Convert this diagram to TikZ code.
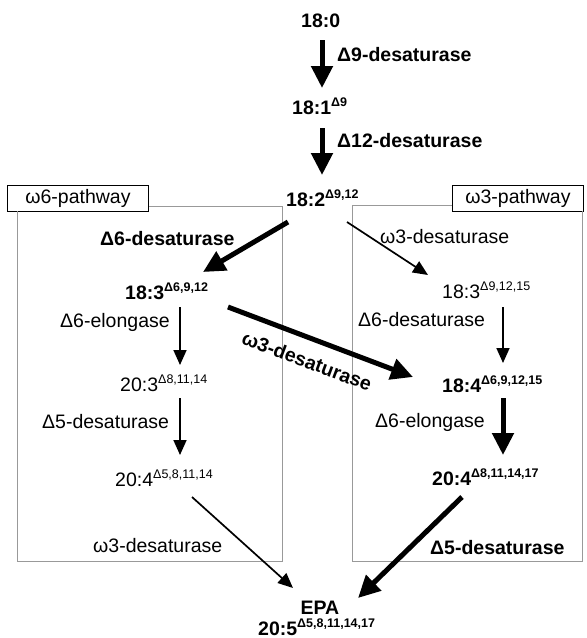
\documentclass[tikz,border=0pt]{standalone}
\usepackage{fontspec}
\setmainfont{Liberation Sans}
\usetikzlibrary{arrows.meta,calc}
\newcommand\supx[1]{\raisebox{8pt}{\fontsize{12.5}{13}\selectfont #1}}
\tikzset{
  txt/.style={inner sep=0pt, anchor=base west, font=\fontsize{19.5}{22}\selectfont},
  btxt/.style={txt, font=\fontsize{19.5}{22}\selectfont\bfseries},
  thinarrow/.style={line width=1.7pt, -{Triangle[length=15pt,width=13pt]}},
  boldarrow/.style={line width=5pt, -{Triangle[length=22pt,width=21pt]}},
  frameline/.style={draw=black!40, line width=0.8pt},
  pathbox/.style={draw=black, line width=1pt, inner sep=0pt, minimum height=26pt, font=\fontsize{19.5}{22}\selectfont}
}
\begin{document}
\begin{tikzpicture}[x=1pt,y=-1pt]
\useasboundingbox (0,0) rectangle (587,638);
% pathway frames
\node[pathbox, minimum width=141pt, anchor=north west] (w6) at (7,185) {ω6-pathway};
\node[pathbox, minimum width=131pt, anchor=north west] (w3) at (452,185) {ω3-pathway};
\draw[frameline] (w6.east |- 0,206) -- (282,206) -- (282,561) -- (17,561) -- (17,211);
\draw[frameline] (w3.west |- 0,205) -- (352,205) -- (352,561) -- (582,561) -- (582,211);
% metabolites
\node[btxt] (n180) at (301,27) {18:0};
\node[btxt] (n181) at (292,114) {18:1\supx{Δ9}};
\node[btxt] (n182) at (286,206) {18:2\supx{Δ9,12}};
\node[btxt] (a183) at (125,299) {18:3\supx{Δ6,9,12}};
\node[txt]  (b183) at (442,298) {18:3\supx{Δ9,12,15}};
\node[txt]  (a203) at (120,391) {20:3\supx{Δ8,11,14}};
\node[btxt] (b184) at (442,392) {18:4\supx{Δ6,9,12,15}};
\node[txt]  (a204) at (115,486) {20:4\supx{Δ5,8,11,14}};
\node[btxt] (b204) at (432,485) {20:4\supx{Δ8,11,14,17}};
\node[btxt, anchor=base] (epa) at (320,614) {EPA};
\node[btxt] (n205) at (258,635) {20:5\supx{Δ5,8,11,14,17}};
% enzyme labels
\node[btxt] (l1) at (337,61) {Δ9-desaturase};
\node[btxt] (l2) at (337,147) {Δ12-desaturase};
\node[btxt] (l3) at (100,245) {Δ6-desaturase};
\node[txt]  (l4) at (380,243) {ω3-desaturase};
\node[txt]  (l5) at (60,327) {Δ6-elongase};
\node[txt]  (l6) at (42,428) {Δ5-desaturase};
\node[txt]  (l7) at (358,326) {Δ6-desaturase};
\node[txt]  (l8) at (375,427) {Δ6-elongase};
\node[txt]  (l9) at (93,552) {ω3-desaturase};
\node[btxt] (l10) at (430,554) {Δ5-desaturase};
\node[btxt, anchor=center, rotate=-20.6] (l11) at (307,361) {ω3-desaturase};
% arrows
\draw[boldarrow] ($(n180.base west)+(21,13)$) -- ($(n181.base west)+(30,-26)$);
\draw[boldarrow] ($(n181.base west)+(30,14)$) -- ($(n182.base west)+(36,-31)$);
\draw[boldarrow] ($(n182.base west)+(2,16)$) -- ($(a183.base west)+(78,-27)$);
\draw[thinarrow] ($(n182.base west)+(61,16)$) -- ($(b183.base west)+(-14,-23)$);
\draw[thinarrow] ($(a183.base west)+(55,8)$) -- ($(a203.base west)+(60,-26)$);
\draw[thinarrow] ($(a203.base west)+(60,7)$) -- ($(a204.base west)+(65,-31)$);
\draw[thinarrow] ($(b183.base west)+(61,9)$) -- ($(b184.base west)+(61,-29)$);
\draw[boldarrow] ($(b184.base west)+(61,6)$) -- ($(b204.base west)+(71,-30)$);
\draw[boldarrow] ($(a183.base west)+(103,8)$) -- ($(b184.base west)+(-29,-15)$);
\draw[thinarrow] ($(a204.base west)+(77,11)$) -- ($(epa.base)+(-27,-26)$);
\draw[boldarrow] ($(b204.base west)+(30,12)$) -- ($(epa.base)+(38,-16)$);
\end{tikzpicture}
\end{document}
